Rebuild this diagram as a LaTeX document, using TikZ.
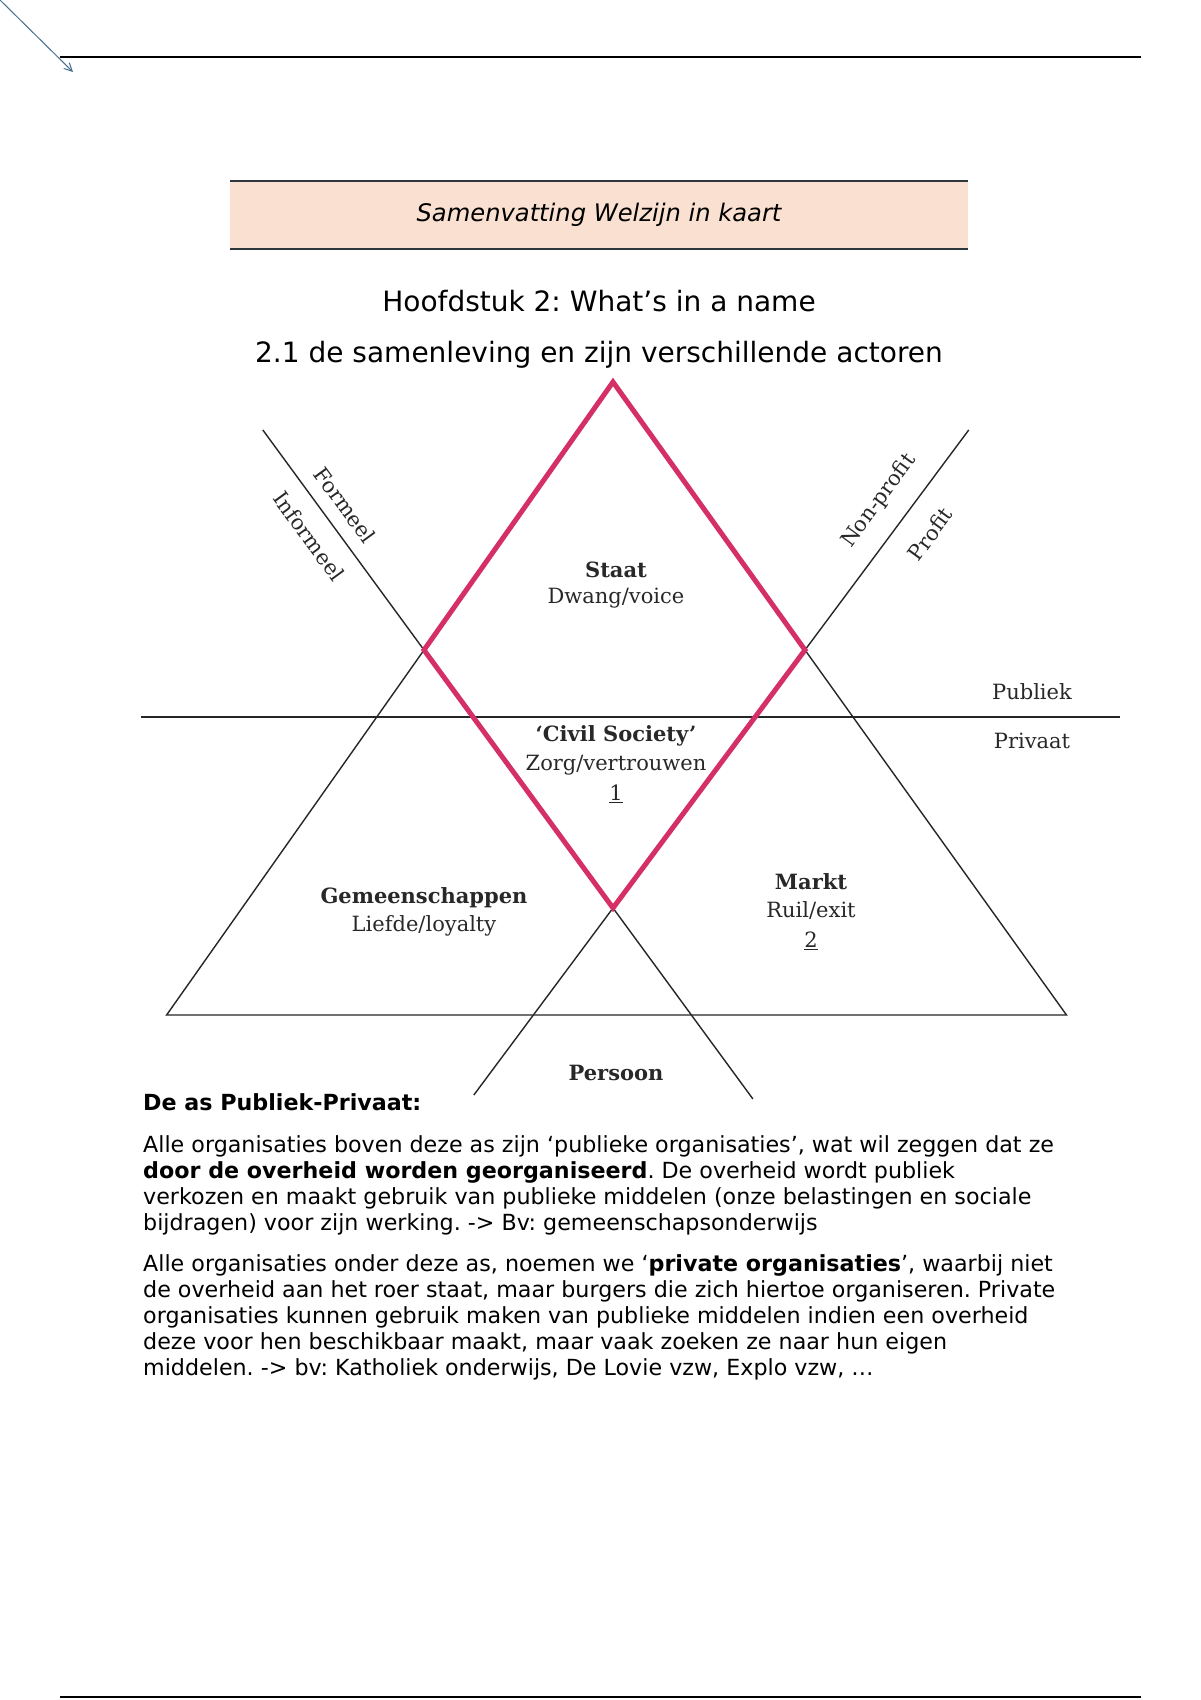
\documentclass[tikz,border=0pt]{standalone}
\usepackage{fontspec}
\setmainfont{DejaVu Sans}
\newfontfamily\dserif{DejaVu Serif}
\usetikzlibrary{arrows.meta,calc}
\definecolor{peach}{RGB}{249,224,208}
\definecolor{diam}{RGB}{212,48,102}
\definecolor{rulec}{RGB}{45,55,60}
\definecolor{arrowc}{RGB}{70,110,140}
\definecolor{lbl}{RGB}{40,40,40}
\frenchspacing
\begin{document}
\begin{tikzpicture}[x=1pt,y=-1pt,
  lab/.style={font=\dserif\fontsize{21}{24}\selectfont, text=lbl, inner sep=0pt},
  blab/.style={lab, font=\dserif\bfseries\fontsize{21}{24}\selectfont},
  body/.style={font=\fontsize{22.2}{25.8}\selectfont, anchor=base west, inner sep=0pt},
  thinline/.style={line width=1.4pt, draw=black!85},
  pagerule/.style={line width=2.4pt, draw=black}]
\useasboundingbox (0,0) rectangle (1200,1700);
\fill[white] (0,0) rectangle (1200,1700);
% page rules
\coordinate (tl) at (60,57); \coordinate (tr) at (1141,57);
\draw[pagerule] (tl) -- (tr);
\coordinate (bl) at (60,1697); \coordinate (br) at (1141,1697);
\draw[pagerule] (bl) -- (br);
\coordinate (as) at (0,0); \coordinate (ae) at (73,72);
\draw[arrowc, line width=1pt, -{Straight Barb[length=8pt,width=8pt]}] (as) -- (ae);
% header
\node (hdr) [fill=peach, minimum width=738pt, minimum height=68pt, inner sep=0pt,
  font=\itshape\fontsize{24.2}{28}\selectfont] at (599,215) {Samenvatting Welzijn in kaart};
\draw[rulec, line width=2pt] (hdr.north west) -- (hdr.north east);
\draw[rulec, line width=2pt] (hdr.south west) -- (hdr.south east);
\node (t1) [font=\fontsize{28}{32}\selectfont] at (599,301) {Hoofdstuk 2: What’s in a name};
\node (t2) [font=\fontsize{28}{32}\selectfont] at (599,355) {2.1 de samenleving en zijn verschillende actoren};
% diagram
\coordinate (A) at (613,382);
\coordinate (L) at (424,650);
\coordinate (R) at (805,650);
\coordinate (B) at (613,908);
\coordinate (FL1) at ($(L)!-0.853!(B)$);
\coordinate (FL2) at ($(L)!1.74!(B)$);
\coordinate (NP1) at ($(R)!-0.853!(B)$);
\coordinate (NP2) at ($(R)!1.725!(B)$);
\coordinate (TB1) at ($(A)!2.362!(L)$);
\coordinate (TB2) at ($(A)!2.362!(R)$);
\coordinate (H1) at (141,717);
\coordinate (H2) at (1120,717);
\draw[thinline] (FL1) -- (FL2);
\draw[thinline] (NP1) -- (NP2);
\draw[thinline] (L) -- (TB1) -- (TB2) -- (R);
\draw[thinline] (H1) -- (H2);
\draw[diam, line width=5pt, line join=miter] (A) -- (L) -- (B) -- (R) -- cycle;
% labels
\node[blab] (staat) at (616,570) {Staat};
\node[lab] (dwang) at (616,598) {Dwang/voice};
\node[blab] (civ) at (616,736) {‘Civil Society’};
\node[lab] (zorg) at (616,765) {Zorg/vertrouwen};
\node[lab] (n1) at (616,794) {\underline{1}};
\node[blab] (gem) at (424,898) {Gemeenschappen};
\node[lab] (lief) at (424,926) {Liefde/loyalty};
\node[blab] (markt) at (811,882) {Markt};
\node[lab] (ruil) at (811,910) {Ruil/exit};
\node[lab] (n2) at (811,941) {\underline{2}};
\node[blab] (pers) at (616,1073) {Persoon};
\node[lab] (pub) at (1032,692) {Publiek};
\node[lab] (priv) at (1032,741) {Privaat};
\node[lab, rotate=-53.8] (form) at (345,505) {Formeel};
\node[lab, rotate=-53.8] (inf) at (309,536) {Informeel};
\node[lab, rotate=53.8] (np) at (879,501) {Non-profit};
\node[lab, rotate=53.8] (prof) at (930,534) {Profit};
% body text
\node[body, font=\bfseries\fontsize{22.2}{25.8}\selectfont] (h) at (143,1110) {De as Publiek-Privaat:};
\node[body] (p1a) at (143,1152) {Alle organisaties boven deze as zijn ‘publieke organisaties’, wat wil zeggen dat ze};
\node[body] (p1b) at (143,1178) {\textbf{door de overheid worden georganiseerd}. De overheid wordt publiek};
\node[body] (p1c) at (143,1204) {verkozen en maakt gebruik van publieke middelen (onze belastingen en sociale};
\node[body] (p1d) at (143,1230) {bijdragen) voor zijn werking. -> Bv: gemeenschapsonderwijs};
\node[body] (p2a) at (143,1271) {Alle organisaties onder deze as, noemen we ‘\textbf{private organisaties}’, waarbij niet};
\node[body] (p2b) at (143,1297) {de overheid aan het roer staat, maar burgers die zich hiertoe organiseren. Private};
\node[body] (p2c) at (143,1323) {organisaties kunnen gebruik maken van publieke middelen indien een overheid};
\node[body] (p2d) at (143,1349) {deze voor hen beschikbaar maakt, maar vaak zoeken ze naar hun eigen};
\node[body] (p2e) at (143,1375) {middelen. -> bv: Katholiek onderwijs, De Lovie vzw, Explo vzw, …};
\end{tikzpicture}
\end{document}
